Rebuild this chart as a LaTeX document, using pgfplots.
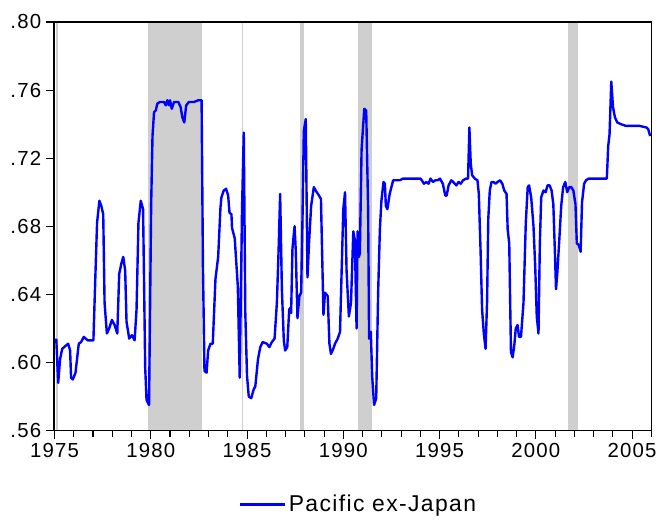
\documentclass[border=0pt]{standalone}
\usepackage{pgfplots}
\pgfplotsset{compat=1.18}
\usepackage{fontspec}
\setmainfont{Liberation Sans}[LetterSpace=6]
\usetikzlibrary{calc}
\definecolor{shade}{RGB}{207,207,207}
\definecolor{lineblue}{RGB}{0,0,255}
\begin{document}
\begin{tikzpicture}
\begin{axis}[
  width=448.5pt, height=306.75pt, scale only axis,
  xmin=1974.97, xmax=2006.0, ymin=0.56, ymax=0.80,
  xtick={1975,1980,1985,1990,1995,2000,2005},
  xticklabels={1975,1980,1985,1990,1995,2000,2005},
  minor xtick={1976,1977,1978,1979,1981,1982,1983,1984,1986,1987,1988,1989,1991,1992,1993,1994,1996,1997,1998,1999,2001,2002,2003,2004,2006},
  ytick={0.56,0.60,0.64,0.68,0.72,0.76,0.80},
  yticklabels={.56,.60,.64,.68,.72,.76,.80},
  xtick pos=bottom, ytick pos=left,
  tick align=outside,
  major tick length=6pt, minor tick length=5pt,
  every tick/.style={black, line width=0.8pt},
  axis line style={black, line width=1.2pt},
  axis on top,
  tick label style={font=\fontsize{15.3}{18}\selectfont},
  /pgf/number format/assume math mode=true,
  legend style={at={(0.51,-0.181)}, anchor=center, draw=none, fill=none,
    font=\fontsize{17.2}{19}\selectfont, inner sep=0pt},
  legend image code/.code={\draw[#1] (-5pt,0pt) -- (29pt,0pt);},
]
% shaded periods
\addplot[draw=none, fill=shade, forget plot] coordinates {(1975.08,0.56) (1975.08,0.80) (1975.17,0.80) (1975.17,0.56)} -- cycle;
\addplot[draw=none, fill=shade, forget plot] coordinates {(1979.83,0.56) (1979.83,0.80) (1982.64,0.80) (1982.64,0.56)} -- cycle;
\addplot[draw=none, fill=shade, forget plot] coordinates {(1984.73,0.56) (1984.73,0.80) (1984.81,0.80) (1984.81,0.56)} -- cycle;
\addplot[draw=none, fill=shade, forget plot] coordinates {(1987.73,0.56) (1987.73,0.80) (1987.97,0.80) (1987.97,0.56)} -- cycle;
\addplot[draw=none, fill=shade, forget plot] coordinates {(1990.74,0.56) (1990.74,0.80) (1991.48,0.80) (1991.48,0.56)} -- cycle;
\addplot[draw=none, fill=shade, forget plot] coordinates {(2001.68,0.56) (2001.68,0.80) (2002.17,0.80) (2002.17,0.56)} -- cycle;
% series
\addplot[lineblue, line width=1.8pt, line join=round] coordinates {
(1975.09,0.614) (1975.19,0.588) (1975.29,0.602) (1975.40,0.608) (1975.60,0.610) (1975.71,0.611)
(1975.81,0.607) (1975.86,0.591) (1975.95,0.590) (1976.09,0.594) (1976.26,0.611) (1976.38,0.612)
(1976.52,0.615) (1976.72,0.613) (1977.02,0.613) (1977.12,0.650) (1977.21,0.682) (1977.33,0.695)
(1977.43,0.692) (1977.53,0.687) (1977.60,0.635) (1977.72,0.617) (1977.84,0.620) (1977.98,0.625)
(1978.12,0.622) (1978.26,0.617) (1978.36,0.652) (1978.47,0.658) (1978.57,0.662) (1978.67,0.654)
(1978.74,0.624) (1978.88,0.614) (1979.02,0.616) (1979.16,0.613) (1979.26,0.631) (1979.36,0.682)
(1979.48,0.695) (1979.60,0.690) (1979.71,0.597) (1979.78,0.578) (1979.91,0.575) (1980.02,0.693)
(1980.09,0.733) (1980.17,0.747) (1980.26,0.748) (1980.34,0.752) (1980.47,0.753) (1980.69,0.753)
(1980.78,0.751) (1980.86,0.754) (1980.95,0.751) (1981.00,0.754) (1981.09,0.749) (1981.21,0.753)
(1981.43,0.753) (1981.55,0.750) (1981.64,0.744) (1981.74,0.741) (1981.84,0.751) (1981.98,0.753)
(1982.24,0.753) (1982.47,0.754) (1982.64,0.754) (1982.71,0.656) (1982.79,0.595) (1982.90,0.594)
(1982.98,0.607) (1983.10,0.611) (1983.22,0.611) (1983.36,0.649) (1983.50,0.662) (1983.62,0.691)
(1983.67,0.697) (1983.79,0.701) (1983.91,0.702) (1984.02,0.698) (1984.09,0.688) (1984.19,0.687)
(1984.22,0.679) (1984.36,0.673) (1984.52,0.645) (1984.62,0.591) (1984.74,0.690) (1984.83,0.735)
(1984.91,0.629) (1985.00,0.592) (1985.09,0.580) (1985.22,0.579) (1985.34,0.584) (1985.43,0.586)
(1985.57,0.602) (1985.69,0.609) (1985.81,0.612) (1986.03,0.611) (1986.16,0.609) (1986.29,0.612)
(1986.43,0.614) (1986.55,0.635) (1986.64,0.666) (1986.72,0.699) (1986.81,0.643) (1986.91,0.613)
(1986.98,0.607) (1987.09,0.609) (1987.19,0.631) (1987.24,0.632) (1987.29,0.629) (1987.36,0.667)
(1987.47,0.680) (1987.53,0.666) (1987.62,0.626) (1987.72,0.639) (1987.81,0.641) (1987.88,0.684)
(1987.95,0.736) (1988.05,0.743) (1988.14,0.650) (1988.22,0.670) (1988.33,0.692) (1988.47,0.703)
(1988.62,0.700) (1988.74,0.698) (1988.84,0.696) (1988.97,0.628) (1989.05,0.641) (1989.19,0.639)
(1989.28,0.611) (1989.36,0.605) (1989.48,0.608) (1989.57,0.611) (1989.71,0.614) (1989.83,0.618)
(1990.00,0.690) (1990.09,0.700) (1990.17,0.654) (1990.29,0.627) (1990.40,0.635) (1990.52,0.677)
(1990.60,0.672) (1990.69,0.620) (1990.74,0.677) (1990.81,0.662) (1990.86,0.664) (1990.95,0.725)
(1991.09,0.749) (1991.19,0.748) (1991.29,0.690) (1991.34,0.614) (1991.43,0.618) (1991.50,0.592)
(1991.60,0.575) (1991.71,0.579) (1991.81,0.641) (1991.90,0.678) (1991.98,0.695) (1992.09,0.706)
(1992.16,0.705) (1992.21,0.692) (1992.29,0.690) (1992.41,0.699) (1992.59,0.707) (1992.76,0.707)
(1992.93,0.707) (1993.10,0.708) (1993.36,0.708) (1993.71,0.708) (1994.02,0.708) (1994.19,0.705)
(1994.31,0.706) (1994.43,0.705) (1994.53,0.708) (1994.66,0.706) (1994.78,0.707) (1994.91,0.707)
(1995.02,0.708) (1995.17,0.705) (1995.30,0.698) (1995.37,0.698) (1995.47,0.704) (1995.61,0.707)
(1995.71,0.706) (1995.87,0.704) (1995.99,0.706) (1996.10,0.705) (1996.22,0.707) (1996.38,0.708)
(1996.48,0.708) (1996.55,0.738) (1996.62,0.717) (1996.69,0.710) (1996.83,0.708) (1996.97,0.707)
(1997.04,0.699) (1997.13,0.666) (1997.21,0.631) (1997.30,0.617) (1997.39,0.608) (1997.47,0.636)
(1997.53,0.684) (1997.61,0.701) (1997.70,0.706) (1997.80,0.706) (1997.91,0.705) (1998.01,0.706)
(1998.14,0.707) (1998.26,0.705) (1998.36,0.701) (1998.48,0.699) (1998.54,0.678) (1998.62,0.670)
(1998.71,0.606) (1998.80,0.603) (1998.89,0.611) (1998.96,0.620) (1999.05,0.622) (1999.13,0.615)
(1999.23,0.615) (1999.36,0.635) (1999.48,0.682) (1999.58,0.703) (1999.65,0.704) (1999.76,0.697)
(1999.88,0.680) (1999.97,0.656) (2000.05,0.627) (2000.14,0.617) (2000.21,0.670) (2000.28,0.697)
(2000.40,0.701) (2000.51,0.700) (2000.61,0.704) (2000.72,0.704) (2000.82,0.701) (2000.91,0.693)
(2001.00,0.662) (2001.05,0.643) (2001.12,0.653) (2001.22,0.672) (2001.32,0.692) (2001.42,0.703)
(2001.53,0.706) (2001.63,0.700) (2001.74,0.703) (2001.84,0.703) (2001.95,0.701) (2002.06,0.693)
(2002.13,0.670) (2002.23,0.669) (2002.33,0.665) (2002.40,0.694) (2002.51,0.705) (2002.61,0.707)
(2002.75,0.708) (2002.93,0.708) (2003.19,0.708) (2003.41,0.708) (2003.62,0.708) (2003.69,0.708)
(2003.76,0.727) (2003.83,0.734) (2003.92,0.765) (2004.01,0.750) (2004.11,0.744) (2004.23,0.741)
(2004.41,0.740) (2004.67,0.739) (2004.84,0.739) (2005.02,0.739) (2005.37,0.739) (2005.75,0.738)
(2005.84,0.737) (2005.94,0.733)
};
\addlegendentry{Pacific ex-Japan}
\end{axis}
\path ($(current axis.south west)+(-40.5pt,-72pt)$) rectangle ($(current axis.north east)+(6.75pt,16.5pt)$);
\end{tikzpicture}
\end{document}
